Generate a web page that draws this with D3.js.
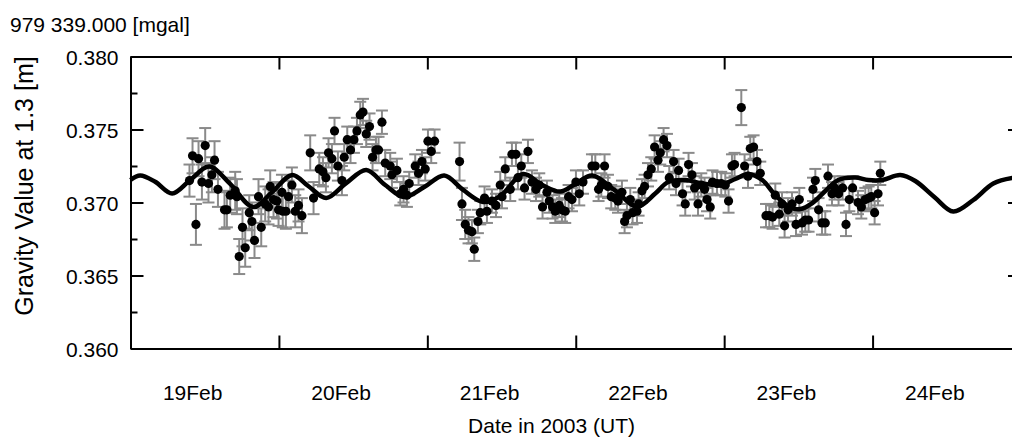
<!DOCTYPE html>
<html>
<head>
<meta charset="utf-8">
<script src="https://cdn.jsdelivr.net/npm/d3@7"></script>
<style>
body { margin: 0; background: #fff; }
svg { display: block; font-family: "Liberation Sans", Arial, sans-serif; }
</style>
</head>
<body>
<svg id="chart" width="1012" height="439"></svg>
<script>
// observation times, hours after 19 Feb 2003 00:00 UT
var hours = [9.54,10.03,11.00,10.58,12.08,11.55,12.61,13.16,13.59,14.14,
	15.20,15.59,16.12,16.93,17.21,18.11,17.58,18.55,19.20,19.63,
	20.05,20.70,21.14,21.78,22.32,22.59,23.13,23.68,23.94,24.49,
	24.62,25.13,25.55,26.10,26.64,27.17,27.72,29.06,29.60,30.52,
	31.12,31.60,32.02,32.57,32.99,33.54,34.19,34.56,35.05,35.58,
	36.13,36.62,37.15,37.59,38.12,38.65,39.14,39.69,40.11,40.66,
	41.19,42.00,42.28,43.08,43.62,44.15,44.70,45.07,46.04,46.58,
	47.13,47.66,48.10,48.63,49.17,53.21,53.60,54.13,54.66,55.21,
	55.59,56.18,56.56,57.25,57.64,58.45,59.10,59.79,60.07,60.60,
	61.41,61.68,62.33,62.65,63.19,63.72,64.27,64.92,65.57,66.10,
	66.63,67.34,67.72,68.25,68.69,69.33,69.77,70.30,70.84,71.39,
	72.03,72.57,73.17,74.62,75.16,75.69,76.13,76.66,77.21,77.74,
	78.39,78.83,79.47,79.90,80.28,80.82,81.19,81.90,82.16,82.71,
	83.13,83.68,84.21,84.75,85.30,85.67,86.20,86.75,87.12,87.82,
	88.21,88.63,89.27,89.71,90.24,90.79,91.22,91.77,92.30,92.83,
	93.22,93.75,94.12,94.84,95.53,96.18,96.71,97.26,97.68,98.77,
	99.30,99.85,100.22,100.76,101.31,101.84,102.76,103.30,103.83,104.27,
	104.91,105.35,105.77,106.32,106.97,107.62,108.15,108.59,109.12,109.65,
	110.36,110.74,111.27,111.82,112.35,112.79,113.44,113.86,114.50,115.15,
	115.70,116.24,116.77,117.64,118.18,118.82,119.36,119.79,120.33,120.88,
	121.25];

// gravity minus 979 339.000 mgal
var gravity = [0.3715,0.3732,0.3730,0.3685,0.3739,0.3714,0.3713,0.3719,0.3729,0.3709,
	0.3695,0.3695,0.3705,0.3708,0.3704,0.3683,0.3663,0.3669,0.3693,0.3687,
	0.3674,0.3704,0.3683,0.3699,0.3697,0.3711,0.3702,0.3701,0.3695,0.3707,
	0.3694,0.3694,0.3704,0.3712,0.3694,0.3698,0.3691,0.3734,0.3703,0.3723,
	0.3721,0.3717,0.3734,0.3730,0.3749,0.3725,0.3715,0.3731,0.3743,0.3736,
	0.3743,0.3749,0.3760,0.3762,0.3747,0.3752,0.3731,0.3736,0.3736,0.3755,
	0.3727,0.3725,0.3719,0.3722,0.3706,0.3709,0.3705,0.3713,0.3725,0.3720,
	0.3728,0.3723,0.3742,0.3735,0.3742,0.3728,0.3699,0.3685,0.3681,0.3680,
	0.3668,0.3687,0.3693,0.3703,0.3694,0.3701,0.3698,0.3712,0.3704,0.3723,
	0.3709,0.3733,0.3733,0.3717,0.3725,0.3710,0.3735,0.3714,0.3709,0.3712,
	0.3697,0.3707,0.3701,0.3697,0.3694,0.3698,0.3695,0.3694,0.3704,0.3702,
	0.3714,0.3706,0.3714,0.3725,0.3725,0.3709,0.3712,0.3725,0.3711,0.3704,
	0.3703,0.3701,0.3707,0.3687,0.3691,0.3702,0.3693,0.3694,0.3699,0.3708,
	0.3711,0.3719,0.3723,0.3738,0.3729,0.3734,0.3743,0.3739,0.3717,0.3728,
	0.3713,0.3722,0.3706,0.3699,0.3726,0.3719,0.3710,0.3699,0.3712,0.3709,
	0.3702,0.3697,0.3714,0.3713,0.3713,0.3712,0.3701,0.3725,0.3726,0.3765,
	0.3725,0.3718,0.3737,0.3738,0.3728,0.3720,0.3691,0.3691,0.3690,0.3705,
	0.3692,0.3699,0.3684,0.3695,0.3699,0.3685,0.3702,0.3686,0.3688,0.3688,
	0.3709,0.3715,0.3695,0.3686,0.3686,0.3718,0.3706,0.3710,0.3706,0.3710,
	0.3685,0.3702,0.3710,0.3700,0.3697,0.3702,0.3703,0.3704,0.3693,0.3706,
	0.3720];

// one-sigma error, mgal
var sigma = [0.0011,0.0012,0.0012,0.0014,0.0012,0.0012,0.0013,0.0012,0.0013,0.0012,
	0.0013,0.0012,0.0012,0.0013,0.0012,0.0013,0.0012,0.0013,0.0012,0.0013,
	0.0012,0.0012,0.0013,0.0012,0.0012,0.0011,0.0012,0.0012,0.0011,0.0012,
	0.0011,0.0012,0.0011,0.0012,0.0011,0.0011,0.0012,0.0012,0.0011,0.0011,
	0.0010,0.0010,0.0010,0.0010,0.0009,0.0010,0.0010,0.0009,0.0009,0.0009,
	0.0009,0.0009,0.0009,0.0009,0.0009,0.0009,0.0009,0.0009,0.0009,0.0008,
	0.0009,0.0009,0.0009,0.0008,0.0008,0.0009,0.0008,0.0008,0.0008,0.0008,
	0.0008,0.0008,0.0008,0.0008,0.0008,0.0013,0.0011,0.0010,0.0009,0.0008,
	0.0008,0.0008,0.0008,0.0008,0.0008,0.0008,0.0008,0.0009,0.0008,0.0008,
	0.0008,0.0008,0.0008,0.0008,0.0008,0.0008,0.0008,0.0008,0.0008,0.0008,
	0.0008,0.0008,0.0008,0.0008,0.0008,0.0008,0.0008,0.0008,0.0008,0.0008,
	0.0008,0.0008,0.0008,0.0008,0.0008,0.0008,0.0008,0.0008,0.0008,0.0008,
	0.0008,0.0008,0.0008,0.0008,0.0008,0.0008,0.0008,0.0008,0.0008,0.0008,
	0.0008,0.0008,0.0008,0.0008,0.0008,0.0008,0.0008,0.0008,0.0008,0.0008,
	0.0008,0.0008,0.0008,0.0008,0.0008,0.0008,0.0008,0.0008,0.0008,0.0008,
	0.0008,0.0008,0.0008,0.0008,0.0008,0.0008,0.0008,0.0008,0.0008,0.0012,
	0.0008,0.0008,0.0008,0.0008,0.0008,0.0008,0.0008,0.0008,0.0008,0.0008,
	0.0008,0.0008,0.0008,0.0008,0.0008,0.0008,0.0008,0.0008,0.0008,0.0008,
	0.0008,0.0008,0.0008,0.0008,0.0008,0.0008,0.0008,0.0008,0.0008,0.0008,
	0.0008,0.0008,0.0008,0.0008,0.0008,0.0008,0.0008,0.0008,0.0008,0.0008,
	0.0008];

// tide model curve
var modelHours = [0,1.57,3.99,6.74,9.66,12.73,16.12,19.84,22.92,26.15,28.74,31.65,34.88,38.12,41.19,
	44.26,47.50,50.73,53.80,57.04,59.79,63.51,66.58,69.49,71.92,74.67,78.23,81.95,84.86,86.96,
	89.71,92.46,95.37,97.80,99.90,102.16,104.27,106.69,108.31,110.25,112.35,114.45,117.20,119.30,
	121.57,124.48,126.91,129.98,133.05,136.29,139.52,142.60,144.0];
var modelGravity = [0.37154,0.37185,0.37142,0.37062,0.37154,0.37246,0.37127,0.36969,0.37072,0.37188,
	0.37113,0.37031,0.37133,0.37223,0.37120,0.37038,0.37106,0.37185,0.37086,0.37003,0.37044,0.37195,
	0.37120,0.37075,0.37127,0.37185,0.37086,0.36972,0.37062,0.37140,0.37154,0.37130,0.37120,0.37161,
	0.37195,0.37154,0.37051,0.36966,0.36955,0.36996,0.37079,0.37154,0.37171,0.37154,0.37154,0.37188,
	0.37147,0.37038,0.36938,0.37017,0.37130,0.37168,0.37171];

var dayLabels = ['19Feb', '20Feb', '21Feb', '22Feb', '23Feb', '24Feb'];
var yMajor = [0.360, 0.365, 0.370, 0.375, 0.380];
var yMinor = [0.3625, 0.3675, 0.3725, 0.3775];

var t0 = Date.UTC(2003, 1, 19);
var HR = 3600 * 1000;
function toDate(h) { return new Date(t0 + h * HR); }

var svg = d3.select('#chart');

var x = d3.scaleUtc()
	.domain([toDate(0), toDate(144)])
	.range([130.5, 1021]);
var y = d3.scaleLinear()
	.domain([0.360, 0.380])
	.range([348.5, 56.5]);

var points = hours.map(function (h, i) {
	return { t: toDate(h), g: gravity[i], e: sigma[i] };
});

// error bars
var bars = svg.append('g')
	.attr('stroke', '#8a8a8a')
	.attr('stroke-width', 2)
	.selectAll('g')
	.data(points)
	.enter()
	.append('g');

bars.append('line')
	.attr('x1', function (d) { return x(d.t); })
	.attr('x2', function (d) { return x(d.t); })
	.attr('y1', function (d) { return y(d.g - d.e); })
	.attr('y2', function (d) { return y(d.g + d.e); });
bars.append('line')
	.attr('x1', function (d) { return x(d.t) - 6; })
	.attr('x2', function (d) { return x(d.t) + 6; })
	.attr('y1', function (d) { return y(d.g + d.e); })
	.attr('y2', function (d) { return y(d.g + d.e); });
bars.append('line')
	.attr('x1', function (d) { return x(d.t) - 6; })
	.attr('x2', function (d) { return x(d.t) + 6; })
	.attr('y1', function (d) { return y(d.g - d.e); })
	.attr('y2', function (d) { return y(d.g - d.e); });

// model
var line = d3.line()
	.x(function (d, i) { return x(toDate(modelHours[i])); })
	.y(function (d) { return y(d); })
	.curve(d3.curveCatmullRom);

svg.append('path')
	.datum(modelGravity)
	.attr('d', line)
	.attr('fill', 'none')
	.attr('stroke', '#000')
	.attr('stroke-width', 4.5);

// observations
svg.append('g')
	.selectAll('circle')
	.data(points)
	.enter()
	.append('circle')
	.attr('cx', function (d) { return x(d.t); })
	.attr('cy', function (d) { return y(d.g); })
	.attr('r', 4.6)
	.attr('fill', '#000');

// frame and ticks
function styleAxis(g) {
	g.attr('font-family', '"Liberation Sans", Arial, sans-serif').attr('font-size', 21);
	g.select('.domain').attr('stroke', '#000').attr('stroke-width', 2);
	g.selectAll('.tick line').attr('stroke', '#000').attr('stroke-width', 2);
	g.selectAll('.tick text').attr('fill', '#000');
}

var days = d3.utcDay.range(toDate(0), toDate(145));

svg.append('g')
	.attr('transform', 'translate(0,' + y(0.360) + ')')
	.call(d3.axisBottom(x).tickValues(days).tickSize(-13).tickSizeOuter(0).tickFormat(''))
	.call(styleAxis);
svg.append('g')
	.attr('transform', 'translate(0,' + y(0.380) + ')')
	.call(d3.axisTop(x).tickValues(days).tickSize(-13).tickSizeOuter(0).tickFormat(''))
	.call(styleAxis);

svg.append('g')
	.attr('transform', 'translate(' + x(toDate(0)) + ',0)')
	.call(d3.axisLeft(y).tickValues(yMajor).tickSize(-13).tickSizeOuter(0).tickPadding(12).tickFormat(d3.format('.3f')))
	.call(styleAxis)
	.selectAll('.tick text').attr('dy', '0.38em');
svg.append('g')
	.attr('transform', 'translate(' + x(toDate(0)) + ',0)')
	.call(d3.axisLeft(y).tickValues(yMinor).tickSize(-7).tickFormat(''))
	.call(styleAxis)
	.select('.domain').remove();

svg.append('g')
	.attr('transform', 'translate(' + x(toDate(144)) + ',0)')
	.call(d3.axisRight(y).tickValues(yMajor).tickSize(-13).tickSizeOuter(0).tickFormat(''))
	.call(styleAxis);
svg.append('g')
	.attr('transform', 'translate(' + x(toDate(144)) + ',0)')
	.call(d3.axisRight(y).tickValues(yMinor).tickSize(-7).tickFormat(''))
	.call(styleAxis)
	.select('.domain').remove();

// day labels
svg.append('g')
	.selectAll('text')
	.data(dayLabels)
	.enter()
	.append('text')
	.attr('x', function (d, i) { return x(toDate(i * 24 + 12)) - 12; })
	.attr('y', 400)
	.attr('text-anchor', 'middle')
	.attr('font-size', 21)
	.text(function (d) { return d; });

svg.append('text')
	.attr('x', 551.5)
	.attr('y', 433)
	.attr('text-anchor', 'middle')
	.attr('font-size', 21)
	.text('Date in 2003 (UT)');

svg.append('text')
	.attr('transform', 'translate(33,186) rotate(-90)')
	.attr('text-anchor', 'middle')
	.attr('font-size', 25)
	.text('Gravity Value at 1.3 [m]');

svg.append('text')
	.attr('x', 10)
	.attr('y', 32)
	.attr('font-size', 21)
	.text('979 339.000 [mgal]');
</script>
</body>
</html>
